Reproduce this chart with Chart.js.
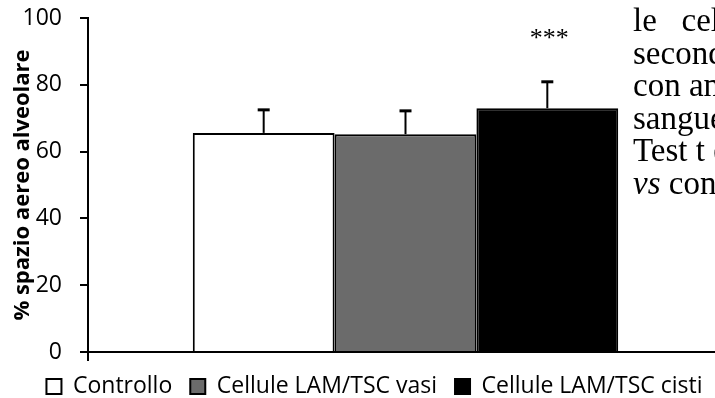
<!DOCTYPE html>
<html>
<head>
<meta charset="utf-8">
<script src="https://cdn.jsdelivr.net/npm/chart.js@4.4.1/dist/chart.umd.min.js"></script>
<style>
    html, body { margin: 0; padding: 0; background: #fff; overflow: hidden; }
    body { width: 715px; height: 398px; position: relative; }
    #chart { position: absolute; left: 0; top: 0; }
    /* testo del documento che si sovrappone a destra */
    #pageText {
        position: absolute; left: 633px; top: 4px; width: 82px; overflow: hidden;
        font-family: "Liberation Serif", serif; font-size: 33px; line-height: 32.6px;
        white-space: pre; color: #000;
    }
</style>
</head>
<body>
<canvas id="chart" width="764" height="398"></canvas>
<div id="pageText">le   cellule
secondo
con anti
sangue
Test t di
<i>vs</i> contr</div>
<script>
// Dati del grafico
const categories = [''];
const seriesLabels = ['Controllo', 'Cellule LAM/TSC vasi', 'Cellule LAM/TSC cisti'];
const seriesValues = [65.6, 65.2, 73.0];
const seriesErrors = [6.9, 7.0, 7.9];
const significance = ['', '', '***'];
const seriesColors = ['#ffffff', '#6b6b6b', '#000000'];
const yTicks = [0, 20, 40, 60, 80, 100];

const FONT = '"Open Sans", "Liberation Sans", sans-serif';

/**
 * Barre di errore (solo verso l'alto) e asterischi di significatività
 */
const errorBarsPlugin = {
    id: 'errorBars',
    afterDatasetsDraw(chart) {
        const ctx = chart.ctx;
        const yScale = chart.scales.y;
        ctx.save();
        ctx.strokeStyle = '#000';
        chart.data.datasets.forEach((dataset, i) => {
            const bar = chart.getDatasetMeta(i).data[0];
            const top = yScale.getPixelForValue(seriesValues[i] + seriesErrors[i]);
            ctx.lineWidth = 2;
            ctx.beginPath();
            ctx.moveTo(bar.x, bar.y);
            ctx.lineTo(bar.x, top);
            ctx.stroke();
            ctx.lineWidth = 3;
            ctx.beginPath();
            ctx.moveTo(bar.x - 6, top);
            ctx.lineTo(bar.x + 6, top);
            ctx.stroke();
            if (significance[i]) {
                ctx.fillStyle = '#000';
                ctx.font = '26px "Liberation Serif", serif';
                ctx.textAlign = 'center';
                ctx.textBaseline = 'alphabetic';
                ctx.fillText(significance[i], bar.x + 2, top - 36);
            }
        });
        ctx.restore();
    }
};

// Sposta la legenda per centrarla come nell'originale
const legendShiftPlugin = {
    id: 'legendShift',
    afterLayout(chart) {
        const legend = chart.legend;
        legend.left += 13;
        legend.right += 13;
    }
};

const chart = new Chart(document.getElementById('chart'), {
    type: 'bar',
    data: {
        labels: categories,
        datasets: seriesLabels.map((label, i) => ({
            label: label,
            data: [seriesValues[i]],
            backgroundColor: seriesColors[i],
            borderColor: '#000',
            borderWidth: 2,
            categoryPercentage: 0.67,
            barPercentage: 1
        }))
    },
    options: {
        responsive: false,
        animation: false,
        layout: {
            padding: { top: 18, right: 41, bottom: -10, left: 0 }
        },
        scales: {
            x: {
                ticks: { display: false },
                grid: {
                    drawOnChartArea: false,
                    drawTicks: true,
                    tickLength: 9,
                    color: '#000',
                    lineWidth: 2
                },
                border: { display: true, color: '#000', width: 2 },
                afterFit(scale) {
                    scale.height = 5;
                }
            },
            y: {
                min: 0,
                max: 100,
                afterBuildTicks(scale) {
                    scale.ticks = yTicks.map(v => ({ value: v }));
                },
                ticks: {
                    color: '#000',
                    padding: 18,
                    font: { family: FONT, size: 23 }
                },
                grid: {
                    drawOnChartArea: false,
                    drawTicks: true,
                    tickLength: 8,
                    color: '#000',
                    lineWidth: 2
                },
                border: { display: true, color: '#000', width: 2 },
                title: {
                    display: true,
                    text: '% spazio aereo alveolare',
                    color: '#000',
                    font: { family: FONT, size: 22, weight: 'bold' },
                    padding: { top: 10, bottom: 0 }
                },
                afterFit(scale) {
                    scale.width = 88;
                    // niente spazio extra sopra/sotto per le etichette
                    scale.paddingTop = 0;
                    scale.paddingBottom = 0;
                }
            }
        },
        plugins: {
            legend: {
                position: 'bottom',
                labels: {
                    color: '#000',
                    boxWidth: 15,
                    boxHeight: 15,
                    padding: 18,
                    font: { family: FONT, size: 23 }
                }
            },
            tooltip: { enabled: false }
        }
    },
    plugins: [errorBarsPlugin, legendShiftPlugin]
});
</script>
</body>
</html>
